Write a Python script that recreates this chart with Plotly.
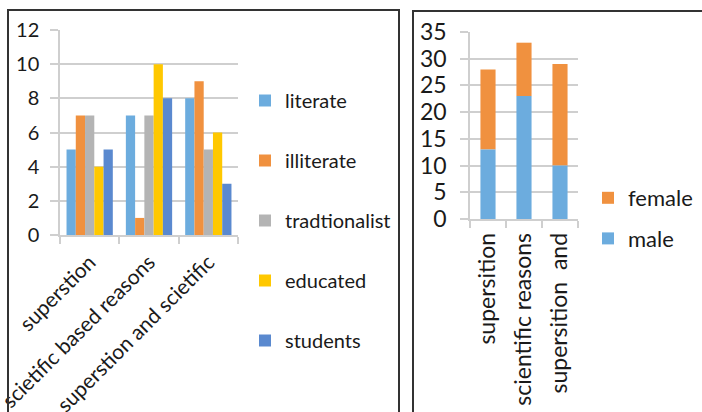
import plotly.graph_objects as go

W, H = 702, 412

# Left chart: grouped bars by respondent type
reason_categories = ["superstion", "scietific based reasons", "superstion and scietific"]
literate = [5, 7, 8]
illiterate = [7, 1, 9]
tradtionalist = [7, 7, 5]
educated = [4, 10, 6]
students = [5, 8, 3]

# Right chart: stacked bars by gender
gender_categories = ["supersition", "scientific reasons", "supersition\u00a0 and"]
male = [13, 23, 10]
female = [15, 10, 19]

left_series = [
    ("literate", literate, "#6CACDE"),
    ("illiterate", illiterate, "#F0913F"),
    ("tradtionalist", tradtionalist, "#B4B4B4"),
    ("educated", educated, "#FFC800"),
    ("students", students, "#5A89CF"),
]

FONT = "Lato"
GRID = "#CFCFCF"
TXT = "#1a1a1a"

def px(x):
    return x / W

def py(y):
    return 1 - y / H

fig = go.Figure()

for name, vals, col in left_series:
    fig.add_trace(go.Bar(
        x=reason_categories, y=vals, name=name, marker_color=col,
        marker_line_width=0, xaxis="x", yaxis="y", legend="legend",
        legendgroup=name,
    ))

# female sits on top of male; listed first so it heads the legend
fig.add_trace(go.Bar(
    x=gender_categories, y=female, base=male, name="female",
    marker_color="#F0913F", marker_line_width=0, xaxis="x2", yaxis="y2",
    legend="legend2", legendgroup="female", offsetgroup="g", width=0.42,
))
fig.add_trace(go.Bar(
    x=gender_categories, y=male, name="male", marker_color="#6CACDE",
    marker_line_width=0, xaxis="x2", yaxis="y2", legend="legend2",
    legendgroup="male", offsetgroup="g", width=0.42,
))

def axis_style(size):
    return dict(
        showline=True, linecolor=GRID, linewidth=1.5,
        tickfont=dict(family=FONT, size=size, color=TXT),
        fixedrange=True, automargin=False,
        tickcolor=GRID, tickwidth=1.5,
    )

fig.update_layout(
    template="none",
    width=W, height=H, autosize=False,
    margin=dict(l=0, r=0, t=0, b=0, autoexpand=False),
    paper_bgcolor="white", plot_bgcolor="white",
    barmode="group", bargap=0.22, bargroupgap=0,
    showlegend=True,
    font=dict(family=FONT, color=TXT),
    xaxis=dict(
        domain=[px(60), px(238)], anchor="y", type="category",
        tickangle=-45, ticks="outside", tickson="boundaries",
        ticklen=7, showgrid=False, ticklabelstandoff=5,
        **axis_style(21),
    ),
    yaxis=dict(
        domain=[py(235), py(30)], anchor="x", range=[0, 12], dtick=2,
        showgrid=True, gridcolor=GRID, gridwidth=1.5, zeroline=False,
        ticks="outside", ticklen=8, ticklabelstandoff=7,
        **axis_style(20),
    ),
    xaxis2=dict(
        domain=[px(470), px(578)], anchor="y2", type="category",
        tickangle=-90, ticks="outside", tickson="boundaries",
        ticklen=7, showgrid=False, ticklabelstandoff=3,
        **axis_style(23),
    ),
    yaxis2=dict(
        domain=[py(219), py(32)], anchor="x2", range=[0, 35], dtick=5,
        showgrid=True, gridcolor=GRID, gridwidth=1.5, zeroline=False,
        ticks="outside", ticklen=8, ticklabelstandoff=9,
        **axis_style(23),
    ),
    legend=dict(
        x=px(245), y=py(81), xanchor="left", yanchor="top",
        font=dict(family=FONT, size=20, color=TXT),
        tracegroupgap=31, itemwidth=30, bgcolor="rgba(0,0,0,0)",
        traceorder="grouped",
    ),
    legend2=dict(
        x=px(588), y=py(177), xanchor="left", yanchor="top",
        font=dict(family=FONT, size=22, color=TXT),
        traceorder="grouped", tracegroupgap=9, itemwidth=30,
        bgcolor="rgba(0,0,0,0)",
    ),
    shapes=[
        dict(type="rect", xref="paper", yref="paper",
             x0=px(8), x1=px(399), y0=-0.1, y1=py(10),
             line=dict(color="#333333", width=2), layer="above"),
        dict(type="rect", xref="paper", yref="paper",
             x0=px(413), x1=1.1, y0=-0.1, y1=py(11),
             line=dict(color="#333333", width=2), layer="above"),
    ],
)

fig.write_html("out.html")
